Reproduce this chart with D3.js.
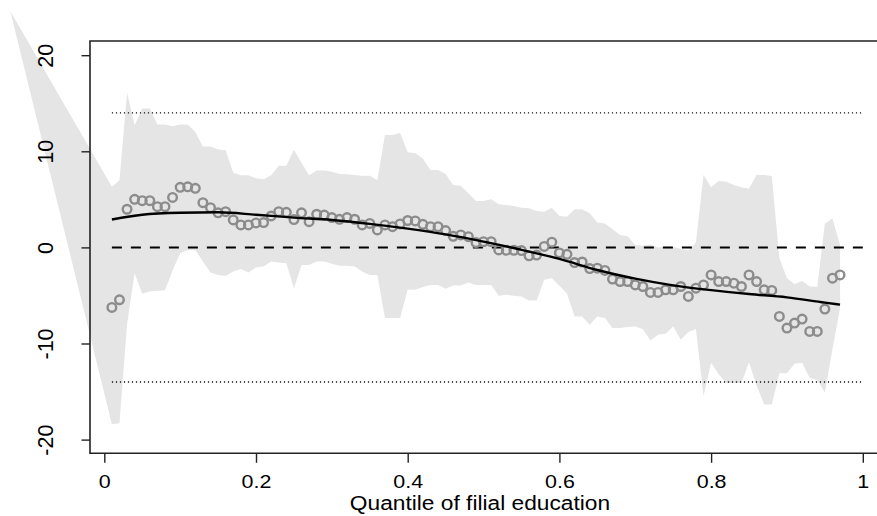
<!DOCTYPE html>
<html>
<head>
<meta charset="utf-8">
<script src="https://cdn.jsdelivr.net/npm/d3@7"></script>
<style>
  html, body { margin: 0; padding: 0; background: #fff; }
  svg { display: block; }
  text { font-family: "Liberation Sans", Arial, Helvetica, sans-serif; }
</style>
</head>
<body>
<div id="chart"></div>
<script>
// Quantiles of filial education at which the effect was estimated
const quantiles = [
  0.01,0.02,0.03,0.04,0.05,0.06,0.07,0.08,0.09,0.10,
  0.11,0.12,0.13,0.14,0.15,0.16,0.17,0.18,0.19,0.20,
  0.21,0.22,0.23,0.24,0.25,0.26,0.27,0.28,0.29,0.30,
  0.31,0.32,0.33,0.34,0.35,0.36,0.37,0.38,0.39,0.40,
  0.41,0.42,0.43,0.44,0.45,0.46,0.47,0.48,0.49,0.50,
  0.51,0.52,0.53,0.54,0.55,0.56,0.57,0.58,0.59,0.60,
  0.61,0.62,0.63,0.64,0.65,0.66,0.67,0.68,0.69,0.70,
  0.71,0.72,0.73,0.74,0.75,0.76,0.77,0.78,0.79,0.80,
  0.81,0.82,0.83,0.84,0.85,0.86,0.87,0.88,0.89,0.90,
  0.91,0.92,0.93,0.94,0.95,0.96,0.97
];

// Point estimates (open circles)
const estimates = [
  -6.25,-5.45,3.97,5.0,4.86,4.86,4.24,4.24,5.2,6.25,
  6.3,6.15,4.65,4.13,3.6,3.72,2.86,2.34,2.34,2.55,
  2.58,3.27,3.72,3.65,2.9,3.6,2.68,3.45,3.37,3.1,
  2.93,3.1,2.93,2.34,2.5,1.82,2.34,2.16,2.44,2.8,
  2.75,2.4,2.16,2.16,1.75,1.15,1.3,1.12,0.5,0.6,
  0.6,-0.26,-0.3,-0.3,-0.33,-0.88,-0.8,0.1,0.54,-0.57,
  -0.72,-1.58,-1.52,-2.2,-2.16,-2.4,-3.3,-3.55,-3.55,-3.9,
  -4.07,-4.69,-4.69,-4.41,-4.41,-4.07,-5.1,-4.24,-3.9,-2.86,
  -3.55,-3.55,-3.72,-4.07,-2.86,-3.55,-4.41,-4.48,-7.18,-8.39,
  -7.87,-7.46,-8.74,-8.74,-6.42,-3.2,-2.86
];

// Confidence band: its first vertex sits left of the quantile range
const bandX = [-0.124].concat(quantiles);
const bandUpper = [
  24.6,
  6.3,7.0,16.1,12.7,14.45,14.45,12.8,12.8,12.6,12.8,
  12.8,12.0,10.5,10.5,10.2,10.1,7.77,7.5,7.5,7.2,
  7.1,7.5,8.5,8.5,10.15,8.8,7.5,8.0,8.0,7.87,
  7.63,7.6,7.53,7.46,7.46,7.0,11.7,11.7,11.9,9.9,
  9.8,9.26,8.05,8.05,7.63,6.5,6.4,5.63,4.83,4.83,
  5.0,4.5,4.41,4.31,4.13,4.07,3.79,3.72,4.13,3.27,
  3.2,3.97,3.97,3.55,2.58,2.5,1.89,1.3,1.15,0.26,
  0.16,0.3,0.0,0.1,0.05,-0.15,-0.33,0.5,7.53,6.25,
  6.9,6.84,6.5,6.25,6.1,7.53,7.53,7.42,-1.1,-3.2,
  -3.8,-3.5,-4.07,-4.1,2.5,3.0,0.26
];
const bandLower = [
  24.6,
  -18.4,-18.3,-8.0,-2.7,-4.8,-4.6,-4.5,-4.45,-2.4,-0.6,
  -0.26,-0.26,-1.47,-2.6,-2.86,-2.96,-2.5,-2.26,-2.6,-2.1,
  -2.0,-1.47,-1.58,-1.64,-4.24,-1.82,-1.82,-1.47,-1.47,-1.71,
  -1.92,-1.92,-1.99,-2.5,-2.86,-2.86,-7.35,-7.35,-7.35,-4.38,
  -4.41,-4.13,-3.9,-3.9,-4.3,-3.96,-3.96,-3.65,-3.9,-3.9,
  -3.9,-5.04,-4.93,-5.04,-5.1,-5.52,-5.52,-3.37,-3.2,-4.0,
  -4.8,-7.18,-7.18,-8.05,-7.18,-7.35,-8.39,-8.39,-8.29,-8.22,
  -8.5,-9.7,-9.08,-8.98,-8.22,-9.6,-8.8,-8.5,-15.45,-12.0,
  -13.2,-14.1,-14.1,-14.1,-11.95,-14.4,-16.35,-16.35,-13.1,-13.1,
  -12.1,-12.0,-13.6,-13.8,-15.1,-10.6,-6.3
];

// Smoothed fit
const fitX = [0.01,0.05,0.10,0.15,0.20,0.25,0.30,0.35,0.40,0.45,0.50,
              0.55,0.60,0.65,0.70,0.75,0.80,0.85,0.90,0.95,0.97];
const fitY = [2.9,3.4,3.6,3.65,3.4,3.1,2.85,2.45,1.95,1.35,0.6,
              -0.25,-1.2,-2.35,-3.25,-3.95,-4.45,-4.85,-5.2,-5.75,-5.95];

// Reference lines
const zeroLine = 0;
const boundLines = [14, -14];
const refStart = 0.01, refEnd = 1.0;

// Axes
const xTicks = [0, 0.2, 0.4, 0.6, 0.8, 1];
const xTickLabels = ["0", "0.2", "0.4", "0.6", "0.8", "1"];
const yTicks = [-20, -10, 0, 10, 20];
const yTickLabels = ["-20", "-10", "0", "10", "20"];
const xTitle = "Quantile of filial education";

const W = 877, H = 516;
const box = { left: 90, top: 41, bottom: 453.3, right: 884 };
const wide = 1.16; // horizontal stretch of the labels

const x = d3.scaleLinear().domain([0, 1]).range([104.3, 862.8]);
const y = d3.scaleLinear().domain([-20, 20]).range([439.6, 55.2]);

const svg = d3.select("#chart").append("svg")
  .attr("width", W).attr("height", H)
  .attr("viewBox", `0 0 ${W} ${H}`);

// Confidence band
const bandData = bandX.map((bx, i) => ({ x: bx, lo: bandLower[i], hi: bandUpper[i] }));
svg.append("path")
  .datum(bandData)
  .attr("fill", "#e5e5e5")
  .attr("stroke", "none")
  .attr("d", d3.area()
    .x(d => x(d.x))
    .y0(d => y(d.lo))
    .y1(d => y(d.hi)));

// Dotted bounds
svg.selectAll("line.bound")
  .data(boundLines)
  .join("line")
  .attr("class", "bound")
  .attr("x1", x(refStart)).attr("x2", x(refEnd))
  .attr("y1", d => y(d)).attr("y2", d => y(d))
  .attr("stroke", "#111")
  .attr("stroke-width", 1.4)
  .attr("stroke-dasharray", "1.2,2.8");

// Dashed zero line
svg.append("line")
  .attr("x1", x(refStart)).attr("x2", x(refEnd))
  .attr("y1", y(zeroLine)).attr("y2", y(zeroLine))
  .attr("stroke", "#000")
  .attr("stroke-width", 2)
  .attr("stroke-dasharray", "10,9");

// Point estimates
svg.selectAll("circle.est")
  .data(quantiles.map((q, i) => ({ q, v: estimates[i] })))
  .join("circle")
  .attr("class", "est")
  .attr("cx", d => x(d.q))
  .attr("cy", d => y(d.v))
  .attr("r", 4.3)
  .attr("fill", "none")
  .attr("stroke", "#8c8c8c")
  .attr("stroke-width", 2.4);

// Smoothed fit
svg.append("path")
  .datum(fitX.map((fx, i) => [fx, fitY[i]]))
  .attr("fill", "none")
  .attr("stroke", "#000")
  .attr("stroke-width", 2.4)
  .attr("d", d3.line().x(d => x(d[0])).y(d => y(d[1])).curve(d3.curveMonotoneX));

// Plot frame (right side runs past the page edge)
svg.append("path")
  .attr("fill", "none")
  .attr("stroke", "#222")
  .attr("stroke-width", 1.6)
  .attr("d", `M${box.right},${box.top}H${box.left}V${box.bottom}H${box.right}`);

// Bottom axis
const gx = svg.append("g")
  .attr("transform", `translate(0,${box.bottom})`)
  .call(d3.axisBottom(x).tickValues(xTicks).tickSize(9.5)
    .tickFormat((d, i) => xTickLabels[i]));
gx.select(".domain").remove();
gx.selectAll(".tick line").attr("stroke", "#222").attr("stroke-width", 1.4);
gx.selectAll(".tick text")
  .attr("y", null).attr("dy", null)
  .attr("transform", `translate(0,34.2) scale(${wide},1)`)
  .attr("fill", "#000")
  .attr("font-size", 18.5)
  .attr("font-family", "Liberation Sans, Arial, sans-serif");

// Left axis with vertical labels
const gy = svg.append("g")
  .attr("transform", `translate(${box.left},0)`)
  .call(d3.axisLeft(y).tickValues(yTicks).tickSize(8.5)
    .tickFormat((d, i) => yTickLabels[i]));
gy.select(".domain").remove();
gy.selectAll(".tick line").attr("stroke", "#222").attr("stroke-width", 1.4);
gy.selectAll(".tick text")
  .attr("x", null).attr("dy", null)
  .attr("text-anchor", "middle")
  .attr("transform", "translate(-37,0) rotate(-90)")
  .attr("fill", "#000")
  .attr("font-size", 21.5)
  .attr("font-family", "Liberation Sans, Arial, sans-serif");

// Axis title
svg.append("text")
  .attr("text-anchor", "middle")
  .attr("transform", `translate(480,509.5) scale(${wide},1)`)
  .attr("font-size", 19.6)
  .attr("fill", "#000")
  .text(xTitle);
</script>
</body>
</html>
